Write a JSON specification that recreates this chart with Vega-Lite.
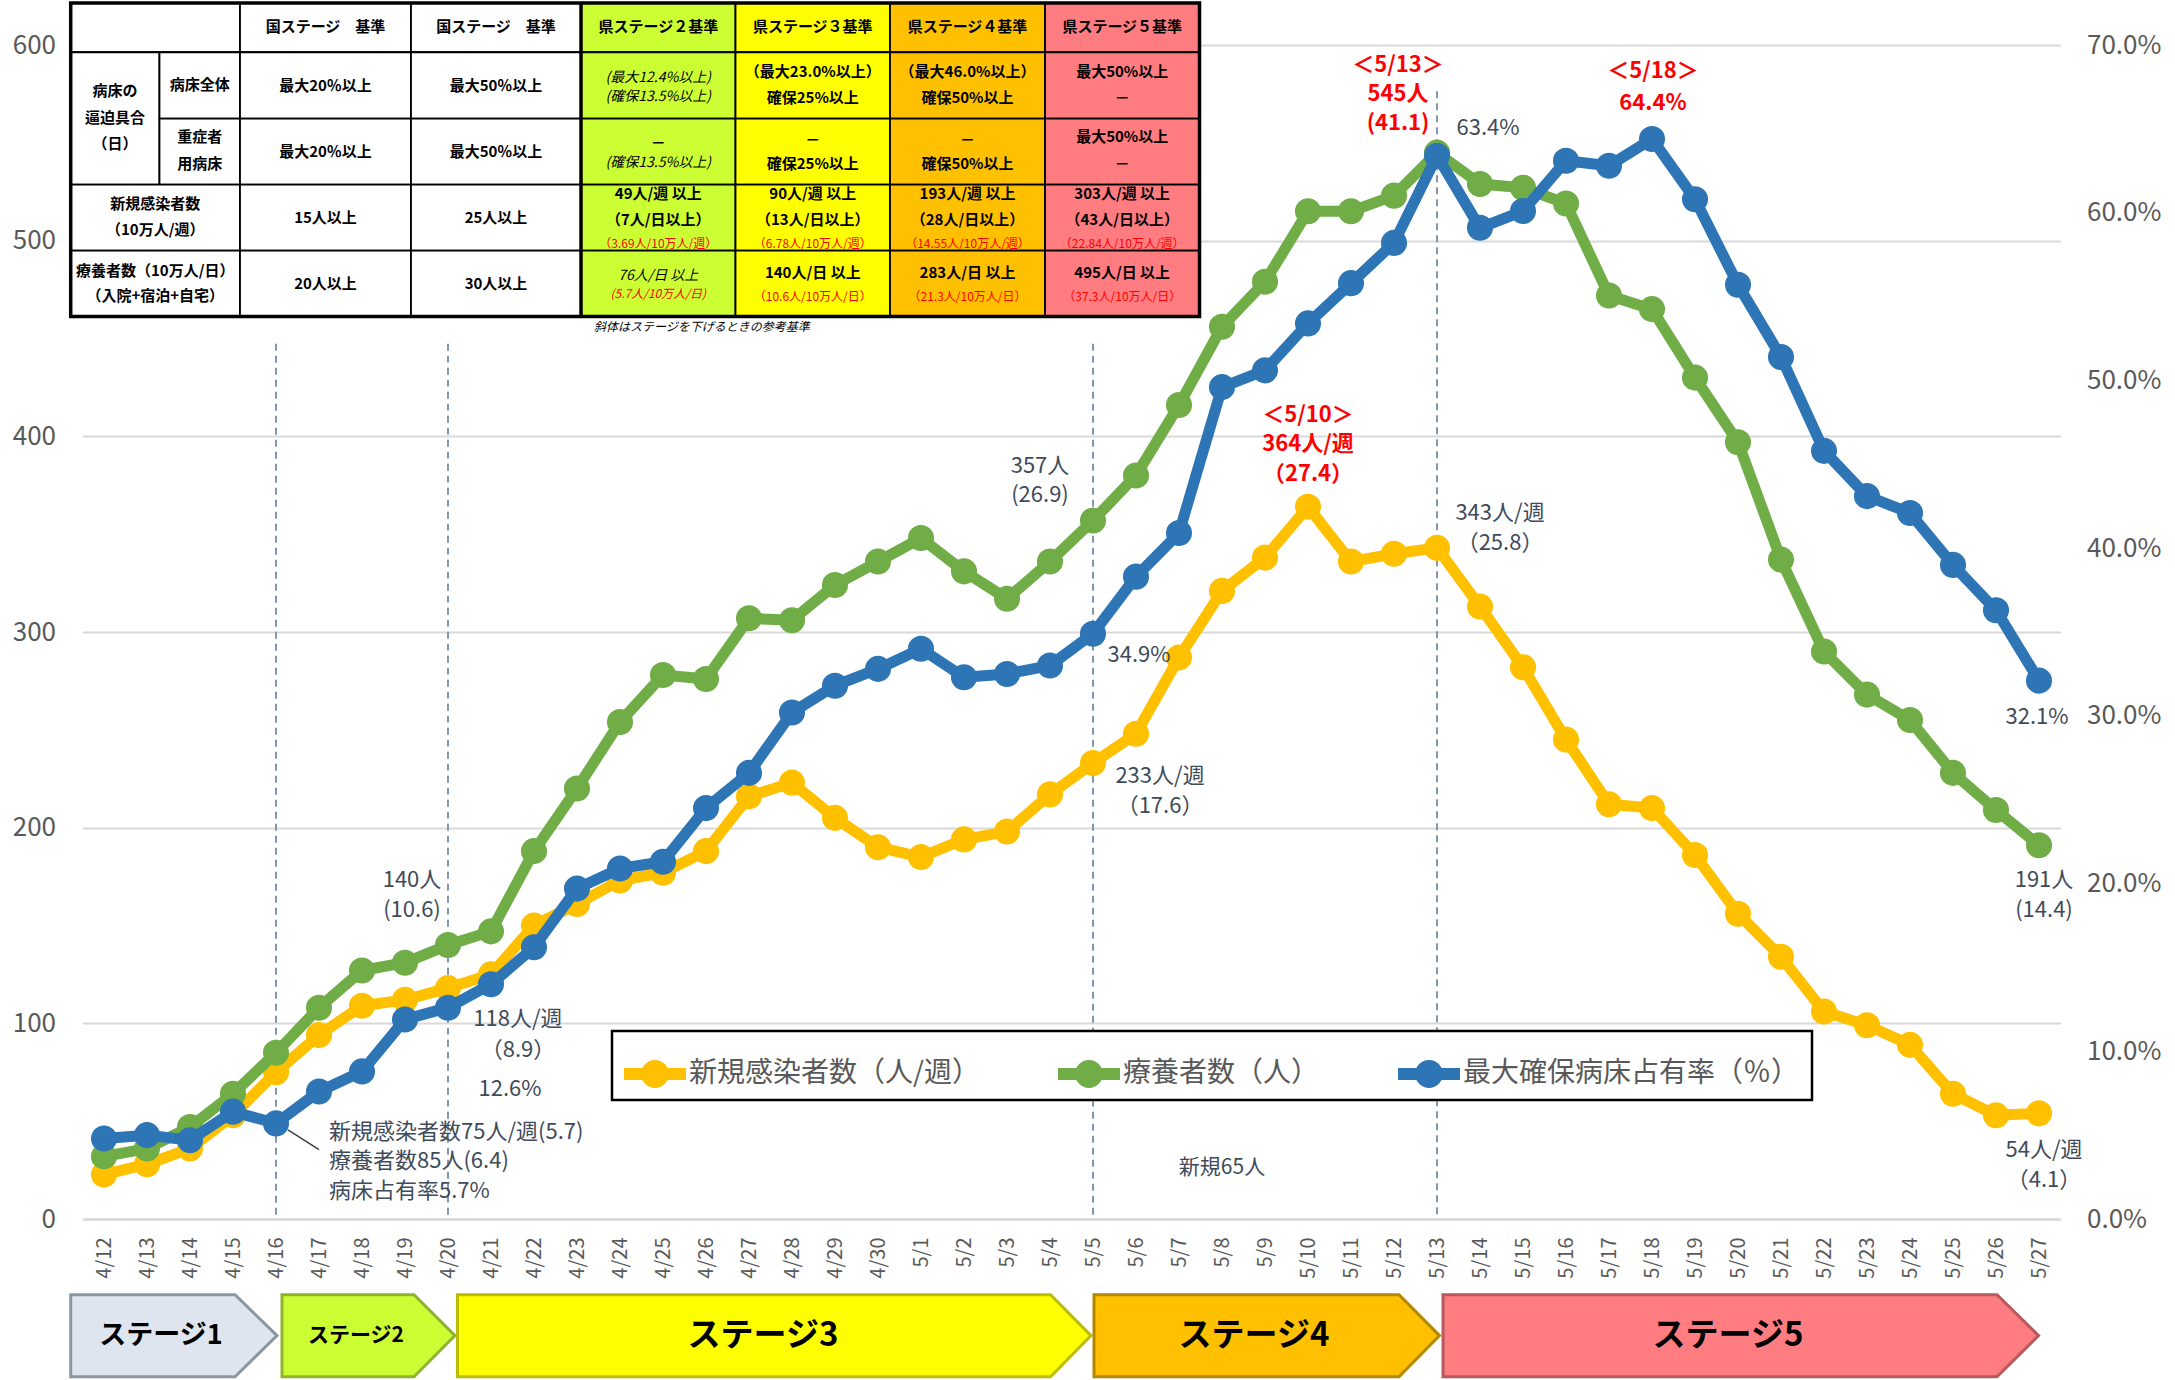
{
"$schema": "https://vega.github.io/schema/vega-lite/v6.json",
"width": 1978, "height": 1174,
"autosize": {"type": "none"},
"padding": {"left": 82.5, "top": 45, "right": 114.5, "bottom": 161},
"background": "#FFFFFF",
"config": {"font": "Noto Sans CJK JP", "view": {"stroke": null}},
"datasets": {
"d": [
{"date":"2021-04-12T00:00","n":22.7,"c":32,"b":0.048},
{"date":"2021-04-13T00:00","n":28,"c":36,"b":0.050},
{"date":"2021-04-14T00:00","n":36,"c":47,"b":0.047},
{"date":"2021-04-15T00:00","n":53,"c":64,"b":0.064},
{"date":"2021-04-16T00:00","n":75,"c":85,"b":0.057},
{"date":"2021-04-17T00:00","n":94,"c":108,"b":0.076},
{"date":"2021-04-18T00:00","n":109,"c":127,"b":0.088},
{"date":"2021-04-19T00:00","n":112,"c":131,"b":0.119},
{"date":"2021-04-20T00:00","n":118,"c":140,"b":0.126},
{"date":"2021-04-21T00:00","n":125,"c":147,"b":0.140},
{"date":"2021-04-22T00:00","n":150,"c":188,"b":0.162},
{"date":"2021-04-23T00:00","n":161,"c":220,"b":0.197},
{"date":"2021-04-24T00:00","n":173,"c":254,"b":0.209},
{"date":"2021-04-25T00:00","n":177,"c":278,"b":0.213},
{"date":"2021-04-26T00:00","n":188,"c":276,"b":0.245},
{"date":"2021-04-27T00:00","n":216,"c":307,"b":0.266},
{"date":"2021-04-28T00:00","n":223,"c":306,"b":0.302},
{"date":"2021-04-29T00:00","n":205,"c":324,"b":0.318},
{"date":"2021-04-30T00:00","n":190,"c":336,"b":0.328},
{"date":"2021-05-01T00:00","n":185,"c":348,"b":0.340},
{"date":"2021-05-02T00:00","n":194,"c":331,"b":0.323},
{"date":"2021-05-03T00:00","n":198,"c":317,"b":0.325},
{"date":"2021-05-04T00:00","n":217,"c":336,"b":0.330},
{"date":"2021-05-05T00:00","n":233,"c":357,"b":0.349},
{"date":"2021-05-06T00:00","n":248,"c":380,"b":0.383},
{"date":"2021-05-07T00:00","n":287,"c":416,"b":0.409},
{"date":"2021-05-08T00:00","n":321,"c":456,"b":0.496},
{"date":"2021-05-09T00:00","n":338,"c":479,"b":0.506},
{"date":"2021-05-10T00:00","n":364,"c":515,"b":0.534},
{"date":"2021-05-11T00:00","n":336,"c":515,"b":0.558},
{"date":"2021-05-12T00:00","n":340,"c":523,"b":0.582},
{"date":"2021-05-13T00:00","n":343,"c":545,"b":0.634},
{"date":"2021-05-14T00:00","n":313,"c":529,"b":0.591},
{"date":"2021-05-15T00:00","n":282,"c":527,"b":0.601},
{"date":"2021-05-16T00:00","n":245,"c":519,"b":0.631},
{"date":"2021-05-17T00:00","n":212,"c":472,"b":0.628},
{"date":"2021-05-18T00:00","n":210,"c":465,"b":0.644},
{"date":"2021-05-19T00:00","n":186,"c":430,"b":0.608},
{"date":"2021-05-20T00:00","n":156,"c":397,"b":0.557},
{"date":"2021-05-21T00:00","n":134,"c":337,"b":0.514},
{"date":"2021-05-22T00:00","n":106,"c":290,"b":0.458},
{"date":"2021-05-23T00:00","n":99,"c":268,"b":0.431},
{"date":"2021-05-24T00:00","n":89,"c":255,"b":0.421},
{"date":"2021-05-25T00:00","n":64,"c":228,"b":0.390},
{"date":"2021-05-26T00:00","n":53,"c":209,"b":0.363},
{"date":"2021-05-27T00:00","n":54,"c":191,"b":0.321}
],
"cells": [
{"x0":"2021-04-11T05:25","x1":"2021-04-15T03:54","y0":596.3,"y1":621.5,"k":"none"},
{"x0":"2021-04-15T03:54","x1":"2021-04-19T03:21","y0":596.3,"y1":621.5,"k":"none"},
{"x0":"2021-04-19T03:21","x1":"2021-04-23T02:14","y0":596.3,"y1":621.5,"k":"none"},
{"x0":"2021-04-23T02:14","x1":"2021-04-26T16:28","y0":596.3,"y1":621.5,"k":"s2"},
{"x0":"2021-04-26T16:28","x1":"2021-04-30T06:42","y0":596.3,"y1":621.5,"k":"s3"},
{"x0":"2021-04-30T06:42","x1":"2021-05-03T21:13","y0":596.3,"y1":621.5,"k":"s4"},
{"x0":"2021-05-03T21:13","x1":"2021-05-07T11:27","y0":596.3,"y1":621.5,"k":"s5"},
{"x0":"2021-04-11T05:25","x1":"2021-04-13T06:58","y0":528.6,"y1":596.3,"k":"none"},
{"x0":"2021-04-13T06:58","x1":"2021-04-15T03:54","y0":562.4,"y1":596.3,"k":"none"},
{"x0":"2021-04-15T03:54","x1":"2021-04-19T03:21","y0":562.4,"y1":596.3,"k":"none"},
{"x0":"2021-04-19T03:21","x1":"2021-04-23T02:14","y0":562.4,"y1":596.3,"k":"none"},
{"x0":"2021-04-23T02:14","x1":"2021-04-26T16:28","y0":562.4,"y1":596.3,"k":"s2"},
{"x0":"2021-04-26T16:28","x1":"2021-04-30T06:42","y0":562.4,"y1":596.3,"k":"s3"},
{"x0":"2021-04-30T06:42","x1":"2021-05-03T21:13","y0":562.4,"y1":596.3,"k":"s4"},
{"x0":"2021-05-03T21:13","x1":"2021-05-07T11:27","y0":562.4,"y1":596.3,"k":"s5"},
{"x0":"2021-04-13T06:58","x1":"2021-04-15T03:54","y0":528.6,"y1":562.4,"k":"none"},
{"x0":"2021-04-15T03:54","x1":"2021-04-19T03:21","y0":528.6,"y1":562.4,"k":"none"},
{"x0":"2021-04-19T03:21","x1":"2021-04-23T02:14","y0":528.6,"y1":562.4,"k":"none"},
{"x0":"2021-04-23T02:14","x1":"2021-04-26T16:28","y0":528.6,"y1":562.4,"k":"s2"},
{"x0":"2021-04-26T16:28","x1":"2021-04-30T06:42","y0":528.6,"y1":562.4,"k":"s3"},
{"x0":"2021-04-30T06:42","x1":"2021-05-03T21:13","y0":528.6,"y1":562.4,"k":"s4"},
{"x0":"2021-05-03T21:13","x1":"2021-05-07T11:27","y0":528.6,"y1":562.4,"k":"s5"},
{"x0":"2021-04-11T05:25","x1":"2021-04-15T03:54","y0":494.9,"y1":528.6,"k":"none"},
{"x0":"2021-04-15T03:54","x1":"2021-04-19T03:21","y0":494.9,"y1":528.6,"k":"none"},
{"x0":"2021-04-19T03:21","x1":"2021-04-23T02:14","y0":494.9,"y1":528.6,"k":"none"},
{"x0":"2021-04-23T02:14","x1":"2021-04-26T16:28","y0":494.9,"y1":528.6,"k":"s2"},
{"x0":"2021-04-26T16:28","x1":"2021-04-30T06:42","y0":494.9,"y1":528.6,"k":"s3"},
{"x0":"2021-04-30T06:42","x1":"2021-05-03T21:13","y0":494.9,"y1":528.6,"k":"s4"},
{"x0":"2021-05-03T21:13","x1":"2021-05-07T11:27","y0":494.9,"y1":528.6,"k":"s5"},
{"x0":"2021-04-11T05:25","x1":"2021-04-15T03:54","y0":461.3,"y1":494.9,"k":"none"},
{"x0":"2021-04-15T03:54","x1":"2021-04-19T03:21","y0":461.3,"y1":494.9,"k":"none"},
{"x0":"2021-04-19T03:21","x1":"2021-04-23T02:14","y0":461.3,"y1":494.9,"k":"none"},
{"x0":"2021-04-23T02:14","x1":"2021-04-26T16:28","y0":461.3,"y1":494.9,"k":"s2"},
{"x0":"2021-04-26T16:28","x1":"2021-04-30T06:42","y0":461.3,"y1":494.9,"k":"s3"},
{"x0":"2021-04-30T06:42","x1":"2021-05-03T21:13","y0":461.3,"y1":494.9,"k":"s4"},
{"x0":"2021-05-03T21:13","x1":"2021-05-07T11:27","y0":461.3,"y1":494.9,"k":"s5"}
],
"tt": [
{"x":"2021-04-17T03:38","y":609.4,"t":"国ステージ　基準","st":"b"},
{"x":"2021-04-21T02:47","y":609.4,"t":"国ステージ　基準","st":"b"},
{"x":"2021-04-24T21:22","y":609.4,"t":"県ステージ２基準","st":"b"},
{"x":"2021-04-28T11:35","y":609.4,"t":"県ステージ３基準","st":"b"},
{"x":"2021-05-02T01:57","y":609.4,"t":"県ステージ４基準","st":"b"},
{"x":"2021-05-05T16:19","y":609.4,"t":"県ステージ５基準","st":"b"},
{"x":"2021-04-12T06:12","y":576.7,"t":"病床の","st":"b"},
{"x":"2021-04-12T06:12","y":562.9,"t":"逼迫具合","st":"b"},
{"x":"2021-04-12T06:12","y":549.6,"t":"（日）","st":"b"},
{"x":"2021-04-14T05:27","y":579.7,"t":"病床全体","st":"b"},
{"x":"2021-04-14T05:27","y":553.2,"t":"重症者","st":"b"},
{"x":"2021-04-14T05:27","y":539.4,"t":"用病床","st":"b"},
{"x":"2021-04-17T03:38","y":579.2,"t":"最大20％以上","st":"b"},
{"x":"2021-04-17T03:38","y":545.5,"t":"最大20％以上","st":"b"},
{"x":"2021-04-17T03:38","y":511.8,"t":"15人以上","st":"b"},
{"x":"2021-04-17T03:38","y":478.0,"t":"20人以上","st":"b"},
{"x":"2021-04-21T02:47","y":579.2,"t":"最大50％以上","st":"b"},
{"x":"2021-04-21T02:47","y":545.5,"t":"最大50％以上","st":"b"},
{"x":"2021-04-21T02:47","y":511.8,"t":"25人以上","st":"b"},
{"x":"2021-04-21T02:47","y":478.0,"t":"30人以上","st":"b"},
{"x":"2021-04-13T04:36","y":518.9,"t":"新規感染者数","st":"b"},
{"x":"2021-04-13T04:36","y":505.6,"t":"（10万人/週）","st":"b"},
{"x":"2021-04-13T04:36","y":484.7,"t":"療養者数（10万人/日）","st":"b"},
{"x":"2021-04-13T04:36","y":471.9,"t":"（入院+宿泊+自宅）","st":"b"},
{"x":"2021-04-24T21:22","y":583.3,"t":"(最大12.4%以上)","st":"i"},
{"x":"2021-04-24T21:22","y":573.6,"t":"(確保13.5%以上)","st":"i"},
{"x":"2021-04-24T21:22","y":550.1,"t":"－","st":"b"},
{"x":"2021-04-24T21:22","y":539.9,"t":"(確保13.5%以上)","st":"i"},
{"x":"2021-04-24T21:22","y":524.1,"t":"49人/週 以上","st":"b"},
{"x":"2021-04-24T21:22","y":510.7,"t":"（7人/日以上）","st":"b"},
{"x":"2021-04-24T21:22","y":498.5,"t":"（3.69人/10万人/週）","st":"r"},
{"x":"2021-04-24T21:22","y":481.7,"t":"76人/日 以上","st":"i"},
{"x":"2021-04-24T21:22","y":472.9,"t":"(5.7人/10万人/日)","st":"ri"},
{"x":"2021-04-28T11:35","y":586.4,"t":"（最大23.0%以上）","st":"b"},
{"x":"2021-04-28T11:35","y":573.1,"t":"確保25%以上","st":"b"},
{"x":"2021-04-28T11:35","y":551.6,"t":"－","st":"b"},
{"x":"2021-04-28T11:35","y":539.4,"t":"確保25%以上","st":"b"},
{"x":"2021-04-28T11:35","y":524.1,"t":"90人/週 以上","st":"b"},
{"x":"2021-04-28T11:35","y":510.7,"t":"（13人/日以上）","st":"b"},
{"x":"2021-04-28T11:35","y":498.5,"t":"（6.78人/10万人/週）","st":"r"},
{"x":"2021-04-28T11:35","y":483.7,"t":"140人/日 以上","st":"b"},
{"x":"2021-04-28T11:35","y":471.4,"t":"（10.6人/10万人/日）","st":"r"},
{"x":"2021-05-02T01:57","y":586.4,"t":"（最大46.0%以上）","st":"b"},
{"x":"2021-05-02T01:57","y":573.1,"t":"確保50%以上","st":"b"},
{"x":"2021-05-02T01:57","y":551.6,"t":"－","st":"b"},
{"x":"2021-05-02T01:57","y":539.4,"t":"確保50%以上","st":"b"},
{"x":"2021-05-02T01:57","y":524.1,"t":"193人/週 以上","st":"b"},
{"x":"2021-05-02T01:57","y":510.7,"t":"（28人/日以上）","st":"b"},
{"x":"2021-05-02T01:57","y":498.5,"t":"（14.55人/10万人/週）","st":"r"},
{"x":"2021-05-02T01:57","y":483.7,"t":"283人/日 以上","st":"b"},
{"x":"2021-05-02T01:57","y":471.4,"t":"（21.3人/10万人/日）","st":"r"},
{"x":"2021-05-05T16:19","y":586.4,"t":"最大50%以上","st":"b"},
{"x":"2021-05-05T16:19","y":573.1,"t":"－","st":"b"},
{"x":"2021-05-05T16:19","y":553.2,"t":"最大50%以上","st":"b"},
{"x":"2021-05-05T16:19","y":539.4,"t":"－","st":"b"},
{"x":"2021-05-05T16:19","y":524.1,"t":"303人/週 以上","st":"b"},
{"x":"2021-05-05T16:19","y":510.7,"t":"（43人/日以上）","st":"b"},
{"x":"2021-05-05T16:19","y":498.5,"t":"（22.84人/10万人/週）","st":"r"},
{"x":"2021-05-05T16:19","y":483.7,"t":"495人/日 以上","st":"b"},
{"x":"2021-05-05T16:19","y":471.4,"t":"（37.3人/10万人/日）","st":"r"}
],
"arrows": [
{"stage":"s1","x":"2021-04-11T05:25","yt":-38.7,"yb":-80.6},
{"stage":"s1","x":"2021-04-15T01:07","yt":-38.7,"yb":-80.6},
{"stage":"s1","x":"2021-04-16T00:33","yt":-59.6,"yb":-59.6},
{"stage":"s2","x":"2021-04-16T03:21","yt":-38.7,"yb":-80.6},
{"stage":"s2","x":"2021-04-19T05:01","yt":-38.7,"yb":-80.6},
{"stage":"s2","x":"2021-04-20T03:54","yt":-59.6,"yb":-59.6},
{"stage":"s3","x":"2021-04-20T05:18","yt":-38.7,"yb":-80.6},
{"stage":"s3","x":"2021-05-04T00:17","yt":-38.7,"yb":-80.6},
{"stage":"s3","x":"2021-05-04T22:52","yt":-59.6,"yb":-59.6},
{"stage":"s4","x":"2021-05-05T00:33","yt":-38.7,"yb":-80.6},
{"stage":"s4","x":"2021-05-12T02:47","yt":-38.7,"yb":-80.6},
{"stage":"s4","x":"2021-05-13T01:23","yt":-59.6,"yb":-59.6},
{"stage":"s5","x":"2021-05-13T03:22","yt":-38.7,"yb":-80.6},
{"stage":"s5","x":"2021-05-26T00:33","yt":-38.7,"yb":-80.6},
{"stage":"s5","x":"2021-05-26T23:43","yt":-59.6,"yb":-59.6}
],
"stages": [
{"stage":"s1","x":"2021-04-13T07:49","y":-60,"t":"ステージ1"},
{"stage":"s2","x":"2021-04-17T20:38","y":-60,"t":"ステージ2"},
{"stage":"s3","x":"2021-04-27T07:49","y":-60,"t":"ステージ3"},
{"stage":"s4","x":"2021-05-08T17:51","y":-60,"t":"ステージ4"},
{"stage":"s5","x":"2021-05-19T18:24","y":-60,"t":"ステージ5"}
],
"vlines": [
{"date":"2021-04-16T00:00","top":447.3},
{"date":"2021-04-20T00:00","top":447.3},
{"date":"2021-05-05T00:00","top":447.3},
{"date":"2021-05-13T00:00","top":576.3}
],
"notes": [
{"x":"2021-04-19T03:54","y":173.0,"t":"140人"},
{"x":"2021-04-19T03:54","y":158.0,"t":"(10.6)"},
{"x":"2021-04-21T15:04","y":102.0,"t":"118人/週"},
{"x":"2021-04-21T15:04","y":86.5,"t":"（8.9）"},
{"x":"2021-04-21T10:36","y":66.6,"t":"12.6%"},
{"x":"2021-05-03T18:25","y":385.0,"t":"357人"},
{"x":"2021-05-03T18:25","y":370.0,"t":"(26.9)"},
{"x":"2021-05-06T01:41","y":288.4,"t":"34.9%"},
{"x":"2021-05-06T13:24","y":226.5,"t":"233人/週"},
{"x":"2021-05-06T13:24","y":211.0,"t":"（17.6）"},
{"x":"2021-05-14T04:28","y":557.7,"t":"63.4%"},
{"x":"2021-05-14T11:10","y":361.0,"t":"343人/週"},
{"x":"2021-05-14T11:10","y":345.5,"t":"（25.8）"},
{"x":"2021-05-26T22:52","y":256.7,"t":"32.1%"},
{"x":"2021-05-27T02:47","y":173.0,"t":"191人"},
{"x":"2021-05-27T02:47","y":158.0,"t":"(14.4)"},
{"x":"2021-05-27T02:47","y":35.5,"t":"54人/週"},
{"x":"2021-05-27T02:47","y":20.0,"t":"（4.1）"}
],
"notesL": [
{"x":"2021-04-17T05:35","y":44.5,"t":"新規感染者数75人/週(5.7)"},
{"x":"2021-04-17T05:35","y":29.5,"t":"療養者数85人(6.4)"},
{"x":"2021-04-17T05:35","y":14.5,"t":"病床占有率5.7%"}
],
"reds": [
{"x":"2021-05-10T00:00","y":411.0,"t":"＜5/10＞"},
{"x":"2021-05-10T00:00","y":396.0,"t":"364人/週"},
{"x":"2021-05-10T00:00","y":381.0,"t":"（27.4）"},
{"x":"2021-05-12T02:14","y":590.0,"t":"＜5/13＞"},
{"x":"2021-05-12T02:14","y":575.0,"t":"545人"},
{"x":"2021-05-12T02:14","y":560.0,"t":"(41.1)"},
{"x":"2021-05-18T00:33","y":586.5,"t":"＜5/18＞"},
{"x":"2021-05-18T00:33","y":570.5,"t":"64.4%"}
]
},
"layer": [
{"layer": [
{"data": {"name": "vlines"},
 "mark": {"type": "rule", "color": "#8497B0", "strokeWidth": 2, "strokeDash": [7, 5]},
 "encoding": {
  "x": {"field": "date", "type": "temporal",
   "scale": {"domain": [{"year": 2021, "month": 4, "date": 11, "hours": 12}, {"year": 2021, "month": 5, "date": 27, "hours": 12}]},
   "axis": {"title": null, "format": "%-m/%-d", "tickCount": {"interval": "day", "step": 1}, "labelAngle": -90, "labelFontSize": 20, "labelColor": "#595959", "labelPadding": 18, "labelFlush": false, "labelOverlap": false, "labelBound": false, "ticks": false, "grid": false, "domainColor": "#D9D9D9", "domainWidth": 2.5}},
  "y": {"field": "top", "type": "quantitative",
   "scale": {"domain": [0, 600], "nice": false},
   "axis": {"title": null, "values": [0, 100, 200, 300, 400, 500, 600], "grid": true, "gridColor": "#D9D9D9", "gridWidth": 2, "domain": false, "ticks": false, "labelFontSize": 26, "labelColor": "#595959", "labelPadding": 27}},
  "y2": {"datum": 0}
 }},
{"data": {"name": "cells"},
 "mark": {"type": "rect", "stroke": "#000000", "strokeWidth": 1.8},
 "encoding": {
  "x": {"field": "x0", "type": "temporal"}, "x2": {"field": "x1"},
  "y": {"field": "y0", "type": "quantitative"}, "y2": {"field": "y1"},
  "fill": {"field": "k", "type": "nominal", "legend": null,
   "scale": {"domain": ["none", "s1", "s2", "s3", "s4", "s5"], "range": ["#FFFFFF", "#DFE5EE", "#CCFF33", "#FFFF00", "#FFC000", "#FF7C80"]}}
 }},
{"data": {"values": [{"x0": "2021-04-11T05:25", "x1": "2021-05-07T11:27", "y0": 461.3, "y1": 621.5}]},
 "mark": {"type": "rect", "filled": false, "color": "#000000", "strokeWidth": 3.5},
 "encoding": {"x": {"field": "x0", "type": "temporal"}, "x2": {"field": "x1"}, "y": {"field": "y0", "type": "quantitative"}, "y2": {"field": "y1"}}},
{"data": {"values": [{"x": "2021-04-23T02:14", "y0": 461.3, "y1": 621.5}]},
 "mark": {"type": "rule", "color": "#000000", "strokeWidth": 3.5},
 "encoding": {"x": {"field": "x", "type": "temporal"}, "y": {"field": "y0", "type": "quantitative"}, "y2": {"field": "y1"}}},
{"data": {"name": "tt"}, "transform": [{"filter": "datum.st == 'b'"}],
 "mark": {"type": "text", "fontSize": 15, "fontWeight": "bold", "color": "#000000"},
 "encoding": {"x": {"field": "x", "type": "temporal"}, "y": {"field": "y", "type": "quantitative"}, "text": {"field": "t"}}},
{"data": {"name": "tt"}, "transform": [{"filter": "datum.st == 'i'"}],
 "mark": {"type": "text", "fontSize": 14, "fontStyle": "italic", "color": "#000000"},
 "encoding": {"x": {"field": "x", "type": "temporal"}, "y": {"field": "y", "type": "quantitative"}, "text": {"field": "t"}}},
{"data": {"name": "tt"}, "transform": [{"filter": "datum.st == 'r'"}],
 "mark": {"type": "text", "fontSize": 12, "color": "#FF0000"},
 "encoding": {"x": {"field": "x", "type": "temporal"}, "y": {"field": "y", "type": "quantitative"}, "text": {"field": "t"}}},
{"data": {"name": "tt"}, "transform": [{"filter": "datum.st == 'ri'"}],
 "mark": {"type": "text", "fontSize": 12, "fontStyle": "italic", "color": "#FF0000"},
 "encoding": {"x": {"field": "x", "type": "temporal"}, "y": {"field": "y", "type": "quantitative"}, "text": {"field": "t"}}},
{"data": {"values": [{"x": "2021-04-23T09:29", "y": 456.1, "t": "斜体はステージを下げるときの参考基準"}]},
 "mark": {"type": "text", "fontSize": 12, "fontStyle": "italic", "align": "left", "color": "#000000"},
 "encoding": {"x": {"field": "x", "type": "temporal"}, "y": {"field": "y", "type": "quantitative"}, "text": {"field": "t"}}},
{"data": {"name": "d"},
 "mark": {"type": "line", "strokeWidth": 11, "strokeJoin": "round", "point": {"filled": true, "size": 680}},
 "encoding": {
  "x": {"field": "date", "type": "temporal"},
  "y": {"field": "n", "type": "quantitative"},
  "color": {"datum": "新規感染者数（人/週）",
   "scale": {"domain": ["新規感染者数（人/週）", "療養者数（人）", "最大確保病床占有率（％）"], "range": ["#FFC000", "#70AD47", "#2E75B6"]},
   "legend": {"title": null, "orient": "none", "legendX": 529.5, "legendY": 986, "direction": "horizontal",
    "symbolType": "M-1,-0.19L1,-0.19L1,0.19L-1,0.19Z M-0.45,0A0.45,0.45 0 1,1 0.45,0A0.45,0.45 0 1,1 -0.45,0Z",
    "symbolSize": 3844, "symbolStrokeWidth": 0, "labelFontSize": 28, "labelColor": "#595959", "labelOffset": 3, "labelLimit": 700,
    "columnPadding": 78, "padding": 12, "strokeColor": "#000000", "fillColor": "#FFFFFF",
    "encode": {"symbols": {"update": {"fill": {"scale": "color", "field": "value"}, "stroke": {"value": "transparent"}}},
               "legend": {"update": {"strokeWidth": {"value": 2.5}}}}}}
 }},
{"data": {"name": "d"},
 "mark": {"type": "line", "strokeWidth": 11, "strokeJoin": "round", "point": {"filled": true, "size": 680}},
 "encoding": {
  "x": {"field": "date", "type": "temporal"},
  "y": {"field": "c", "type": "quantitative"},
  "color": {"datum": "療養者数（人）"}
 }},
{"data": {"name": "notes"},
 "mark": {"type": "text", "fontSize": 22, "color": "#404B5A"},
 "encoding": {"x": {"field": "x", "type": "temporal"}, "y": {"field": "y", "type": "quantitative"}, "text": {"field": "t"}}},
{"data": {"name": "notesL"},
 "mark": {"type": "text", "fontSize": 22, "color": "#404B5A", "align": "left"},
 "encoding": {"x": {"field": "x", "type": "temporal"}, "y": {"field": "y", "type": "quantitative"}, "text": {"field": "t"}}},
{"data": {"values": [{"x": "2021-05-08T00:00", "y": 26.2, "t": "新規65人"}]},
 "mark": {"type": "text", "fontSize": 21, "color": "#404B5A"},
 "encoding": {"x": {"field": "x", "type": "temporal"}, "y": {"field": "y", "type": "quantitative"}, "text": {"field": "t"}}},
{"data": {"name": "reds"},
 "mark": {"type": "text", "fontSize": 22, "fontWeight": "bold", "color": "#FF0000"},
 "encoding": {"x": {"field": "x", "type": "temporal"}, "y": {"field": "y", "type": "quantitative"}, "text": {"field": "t"}}},
{"data": {"values": [{"xa": "2021-04-16T06:42", "ya": 45.6, "xb": "2021-04-17T00:00", "yb": 35.4}]},
 "mark": {"type": "rule", "color": "#404040", "strokeWidth": 1.5},
 "encoding": {"x": {"field": "xa", "type": "temporal"}, "x2": {"field": "xb"}, "y": {"field": "ya", "type": "quantitative"}, "y2": {"field": "yb"}}},
{"data": {"name": "arrows"},
 "mark": {"type": "area", "strokeWidth": 3, "interpolate": "linear", "strokeJoin": "miter"},
 "encoding": {
  "x": {"field": "x", "type": "temporal"},
  "y": {"field": "yt", "type": "quantitative"}, "y2": {"field": "yb"},
  "fill": {"field": "stage", "type": "nominal", "legend": null},
  "stroke": {"field": "stage", "type": "nominal", "legend": null,
   "scale": {"domain": ["s1", "s2", "s3", "s4", "s5"], "range": ["#8C96A3", "#8FB32D", "#BDBD00", "#B38700", "#B55A5E"]}}
 }},
{"data": {"name": "stages"}, "transform": [{"filter": "datum.stage == 's1'"}],
 "mark": {"type": "text", "fontWeight": "bold", "color": "#000000", "fontSize": 27},
 "encoding": {"x": {"field": "x", "type": "temporal"}, "y": {"field": "y", "type": "quantitative"}, "text": {"field": "t"}}},
{"data": {"name": "stages"}, "transform": [{"filter": "datum.stage == 's2'"}],
 "mark": {"type": "text", "fontWeight": "bold", "color": "#000000", "fontSize": 21},
 "encoding": {"x": {"field": "x", "type": "temporal"}, "y": {"field": "y", "type": "quantitative"}, "text": {"field": "t"}}},
{"data": {"name": "stages"}, "transform": [{"filter": "datum.stage != 's1' && datum.stage != 's2'"}],
 "mark": {"type": "text", "fontWeight": "bold", "color": "#000000", "fontSize": 33},
 "encoding": {"x": {"field": "x", "type": "temporal"}, "y": {"field": "y", "type": "quantitative"}, "text": {"field": "t"}}}
]},
{"layer": [
{"data": {"name": "d"},
 "mark": {"type": "line", "strokeWidth": 11, "strokeJoin": "round", "point": {"filled": true, "size": 680}},
 "encoding": {
  "x": {"field": "date", "type": "temporal"},
  "y": {"field": "b", "type": "quantitative",
   "scale": {"domain": [0, 0.7], "nice": false},
   "axis": {"orient": "right", "title": null, "values": [0, 0.1, 0.2, 0.3, 0.4, 0.5, 0.6, 0.7], "format": ".1%", "grid": false, "domain": false, "ticks": false, "labelFontSize": 26, "labelColor": "#595959", "labelPadding": 26}},
  "color": {"datum": "最大確保病床占有率（％）"}
 }}
]}
],
"resolve": {"scale": {"y": "independent"}}
}
